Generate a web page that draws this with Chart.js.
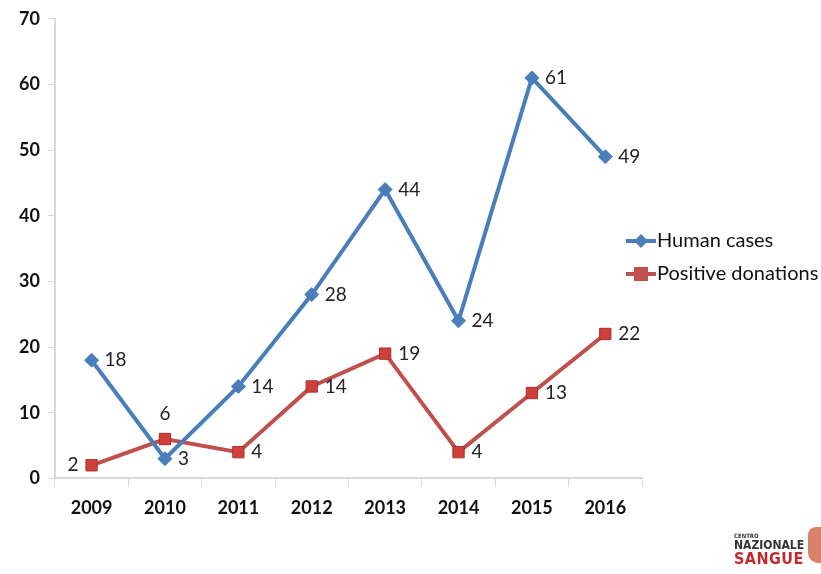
<!DOCTYPE html>
<html>
<head>
<meta charset="utf-8">
<script src="https://cdn.jsdelivr.net/npm/chart.js@4"></script>
<style>
  body { margin: 0; background: #fff; }
  #wrap { position: relative; width: 821px; height: 574px; }
  #logo { position: absolute; left: 734px; top: 533px; font-family: "DejaVu Sans Condensed", "DejaVu Sans", sans-serif; font-weight: bold; line-height: 1; }
  #logo .a { font-size: 6px; color: #333; }
  #logo .b { font-size: 12px; color: #333; }
  #logo .c { font-size: 16px; color: #c0282d; letter-spacing: 0.5px; }
  #blob { position: absolute; left: 808px; top: 527px; width: 14px; height: 36px; background: #d9826a; border-radius: 8px 0 0 10px; }
</style>
</head>
<body>
<div id="wrap">
  <canvas id="chart" width="821" height="574"></canvas>
  <div id="logo"><div class="a">CENTRO</div><div class="b">NAZIONALE</div><div class="c">SANGUE</div></div>
  <div id="blob"></div>
</div>
<script>
const years = ['2009', '2010', '2011', '2012', '2013', '2014', '2015', '2016'];
const humanCases = [18, 3, 14, 28, 44, 24, 61, 49];
const positiveDonations = [2, 6, 4, 14, 19, 4, 13, 22];
// where each value label goes
const humanLabelPos = ['right', 'right', 'right', 'right', 'right', 'right', 'right', 'right'];
const donationLabelPos = ['left', 'top', 'right', 'right', 'right', 'right', 'right', 'right'];

const blue = '#4a7ebb';
const red = '#c0504d';

const labelsPlugin = {
  id: 'valueLabels',
  afterDatasetsDraw(chart) {
    const ctx = chart.ctx;
    ctx.save();
    ctx.font = '19px Lato, sans-serif';
    ctx.fillStyle = '#222';
    ctx.textBaseline = 'middle';
    const positions = [humanLabelPos, donationLabelPos];
    chart.data.datasets.forEach((ds, i) => {
      chart.getDatasetMeta(i).data.forEach((pt, j) => {
        const pos = positions[i][j];
        const txt = String(ds.data[j]);
        if (pos === 'right') {
          ctx.textAlign = 'left';
          ctx.fillText(txt, pt.x + 13, pt.y);
        } else if (pos === 'left') {
          ctx.textAlign = 'right';
          ctx.fillText(txt, pt.x - 13, pt.y);
        } else {
          ctx.textAlign = 'center';
          ctx.fillText(txt, pt.x, pt.y - 25);
        }
      });
    });
    ctx.restore();
  }
};

const legendPlugin = {
  id: 'sideLegend',
  afterDraw(chart) {
    const ctx = chart.ctx;
    ctx.save();
    ctx.font = '20px Lato, sans-serif';
    ctx.textBaseline = 'middle';
    ctx.textAlign = 'left';
    const items = [
      { text: 'Human cases', color: blue, shape: 'diamond', y: 241 },
      { text: 'Positive donations', color: red, shape: 'square', y: 274 }
    ];
    items.forEach(it => {
      ctx.strokeStyle = it.color;
      ctx.lineWidth = 4;
      ctx.beginPath();
      ctx.moveTo(626, it.y);
      ctx.lineTo(656, it.y);
      ctx.stroke();
      ctx.fillStyle = it.color;
      ctx.beginPath();
      if (it.shape === 'diamond') {
        ctx.moveTo(641, it.y - 7);
        ctx.lineTo(648, it.y);
        ctx.lineTo(641, it.y + 7);
        ctx.lineTo(634, it.y);
      } else {
        ctx.rect(634, it.y - 7, 14, 14);
      }
      ctx.fill();
      ctx.fillStyle = '#111';
      ctx.fillText(it.text, 657, it.y);
    });
    ctx.restore();
  }
};

new Chart(document.getElementById('chart').getContext('2d'), {
  type: 'line',
  data: {
    labels: years,
    datasets: [
      {
        label: 'Human cases',
        data: humanCases,
        borderColor: blue,
        backgroundColor: blue,
        borderWidth: 4,
        pointStyle: 'rectRot',
        pointRadius: 7,
        pointBorderWidth: 1,
        tension: 0
      },
      {
        label: 'Positive donations',
        data: positiveDonations,
        borderColor: red,
        backgroundColor: '#d0403a',
        pointBorderColor: '#a83030',
        borderWidth: 4,
        pointStyle: 'rect',
        pointRadius: 8,
        pointBorderWidth: 1,
        tension: 0
      }
    ]
  },
  options: {
    responsive: false,
    animation: false,
    layout: { padding: { left: 11, right: 179, top: -3, bottom: 44 } },
    plugins: { legend: { display: false }, tooltip: { enabled: false } },
    scales: {
      x: {
        offset: true,
        grid: { offset: true, drawOnChartArea: false, drawTicks: true, tickLength: 8, color: '#d9d9d9' },
        border: { color: '#d9d9d9', width: 2 },
        ticks: { color: '#111', font: { family: 'Lato', size: 18, weight: 'bold' }, padding: 11 }
      },
      y: {
        min: 0,
        max: 70,
        ticks: { stepSize: 10, color: '#111', font: { family: 'Lato', size: 18, weight: 'bold' }, padding: 8 },
        grid: { drawOnChartArea: false, drawTicks: true, tickLength: 7, color: '#d9d9d9' },
        border: { color: '#d9d9d9', width: 2 }
      }
    }
  },
  plugins: [labelsPlugin, legendPlugin]
});
</script>
</body>
</html>
